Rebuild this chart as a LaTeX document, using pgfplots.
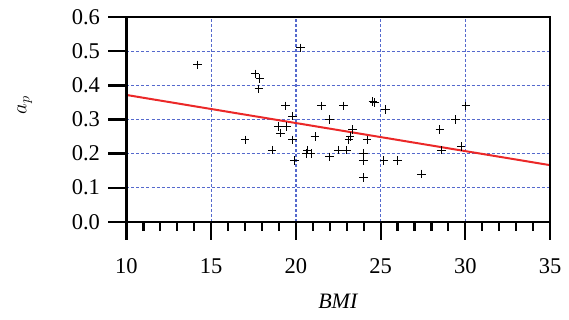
\documentclass[border=0pt]{standalone}
\usepackage{pgfplots}
\pgfplotsset{compat=1.18}
\usepackage{fontspec}
\setmainfont{Liberation Serif}
\definecolor{gridblue}{RGB}{85,105,205}
\definecolor{fitred}{RGB}{235,40,40}
\begin{document}
\begin{tikzpicture}
\begin{axis}[
  scale only axis,
  width=423.5pt, height=204.4pt,
  xmin=10, xmax=35, ymin=0, ymax=0.6,
  xtick={10,15,...,35}, ytick={0,0.1,...,0.6},
  minor x tick num=4,
  xtick pos=bottom, ytick pos=left,
  tick align=outside,
  major tick length=18pt, minor tick length=9pt,
  axis line style={black, line width=2.2pt},
  tick style={black, line width=2.2pt},
  grid=major,
  major grid style={draw=gridblue, line width=1.3pt, dash pattern=on 3pt off 2pt},
  /pgf/number format/assume math mode=true,
  xticklabel style={yshift=-15pt},
  yticklabel style={xshift=-5pt, /pgf/number format/.cd, fixed, fixed zerofill, precision=1},
  ticklabel style={font=\fontsize{22.5}{26}\selectfont},
  xlabel={\textit{BMI}}, ylabel={$a_p$},
  label style={font=\fontsize{22}{26}\selectfont},
  xlabel style={at={(axis description cs:0.5,-0.39)}, anchor=center},
  ylabel style={at={(axis description cs:-0.24,0.57)}, anchor=center},
  clip=false,
]
\addplot[only marks, mark=+, mark size=4.3pt, mark options={line width=1pt, black}] coordinates {
(14.2,0.46) (17.59,0.434) (17.88,0.42) (17.82,0.39) (17.0,0.24) (18.6,0.21)
(19.4,0.34) (19.8,0.31) (18.96,0.28) (19.46,0.28) (19.1,0.26) (19.8,0.24)
(19.9,0.18) (20.28,0.51) (20.7,0.21) (20.9,0.20) (20.6,0.20) (21.13,0.25)
(21.5,0.34) (22.0,0.30) (22.0,0.19) (22.5,0.21) (22.8,0.34) (23.0,0.21)
(23.33,0.27) (23.2,0.25) (23.13,0.24) (24.2,0.24) (23.98,0.20) (23.98,0.18)
(23.98,0.13) (24.63,0.35) (24.55,0.352) (25.3,0.33) (25.2,0.18) (26.0,0.18)
(27.43,0.14) (28.5,0.27) (28.6,0.21) (29.43,0.30) (29.75,0.22) (30.04,0.34)
};
\addplot[fitred, line width=2pt] coordinates {(10,0.372) (35,0.166)};
\end{axis}
\draw[black, line width=2.2pt] (current axis.south west) rectangle (current axis.north east);
\path (current axis.south west) ++(-126.5pt,-98.3pt) coordinate (bbA);
\path (current axis.north east) ++(19pt,17.3pt) coordinate (bbB);
\useasboundingbox (bbA) rectangle (bbB);
\end{tikzpicture}
\end{document}
